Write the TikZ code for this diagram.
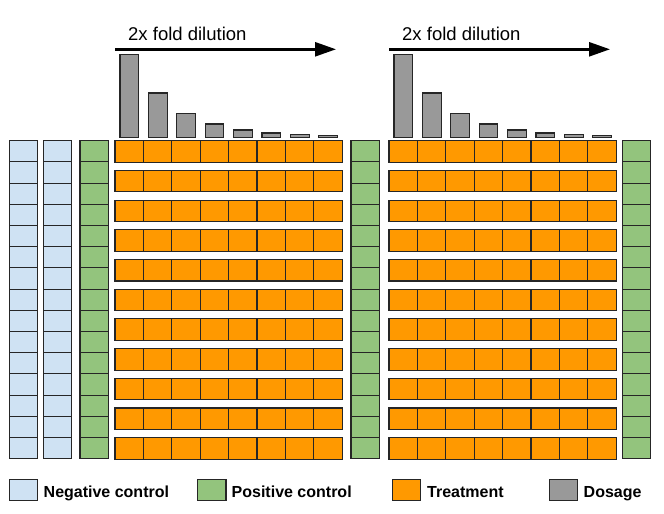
\documentclass[tikz,border=0pt]{standalone}
\usepackage{fontspec}
\setmainfont{Liberation Sans}
\usetikzlibrary{arrows.meta}
\definecolor{negc}{HTML}{CFE2F3}
\definecolor{posc}{HTML}{93C47D}
\definecolor{trtc}{HTML}{FF9900}
\definecolor{dosc}{HTML}{999999}
\definecolor{edgec}{HTML}{262626}
\tikzset{
  cell/.style={draw=edgec, line width=1.1pt, inner sep=0pt, outer sep=0pt, anchor=north west},
  colcell/.style={cell, minimum width=28.5pt, minimum height=21.2pt},
  trtcell/.style={cell, fill=trtc, minimum width=28.4pt, minimum height=21.5pt},
  barbox/.style={draw=edgec, line width=1.1pt, fill=dosc},
  dilarrow/.style={line width=2.6pt, -{Triangle[length=21pt,width=14pt]}},
  dillabel/.style={anchor=base west, inner sep=0pt, font=\fontsize{18.5}{20}\selectfont},
  legbox/.style={cell, minimum width=28.5pt, minimum height=21.4pt},
  leglabel/.style={anchor=base west, inner sep=0pt, font=\fontsize{16}{18}\selectfont\bfseries}
}
\begin{document}
\begin{tikzpicture}[x=1pt,y=-1pt]
\useasboundingbox (0,0) rectangle (664,514);
% control columns
\foreach \cx/\cf/\nm in {9.3/negc/nega,43.3/negc/negb,80/posc/posa,351/posc/posb,622.3/posc/posc}{
  \foreach \i in {0,...,14}{
    \node[colcell, fill=\cf] (\nm\i) at (\cx,{140.7+21.2*\i}) {};
  }
}
% treatment blocks
\foreach \bx/\bn in {115/ta,389/tb}{
  \foreach \r in {0,...,10}{
    \foreach \c in {0,...,7}{
      \node[trtcell] (\bn-\r-\c) at ({\bx+28.4*\c},{140.7+29.7*\r}) {};
    }
  }
  % dosage bars
  \foreach \h [count=\k from 0] in {83,44.7,24.4,13.7,7.7,4.7,3.4,2.4}{
    \draw[barbox] ({\bx+28.4*\k+5},137.7) rectangle ({\bx+28.4*\k+23.7},{137.7-\h});
  }
  % arrow and label
  \coordinate (\bn-as) at (\bx,49.3);
  \coordinate (\bn-ae) at ({\bx+221},49.3);
  \draw[dilarrow] (\bn-as) -- (\bn-ae);
  \node[dillabel] (\bn-lab) at ({\bx+13},40.7) {2x fold dilution};
}
% legend
\node[legbox, fill=negc] (lneg) at (9.3,479.3) {};
\node[leglabel] (lnegt) at (43.5,497.5) {Negative control};
\node[legbox, fill=posc] (lpos) at (197.5,479.3) {};
\node[leglabel] (lpost) at (231.5,497.5) {Positive control};
\node[legbox, fill=trtc] (ltrt) at (392.3,479.3) {};
\node[leglabel] (ltrtt) at (427,497.5) {Treatment};
\node[legbox, fill=dosc] (ldos) at (549.3,479.3) {};
\node[leglabel] (ldost) at (583.5,497.5) {Dosage};
\end{tikzpicture}
\end{document}
